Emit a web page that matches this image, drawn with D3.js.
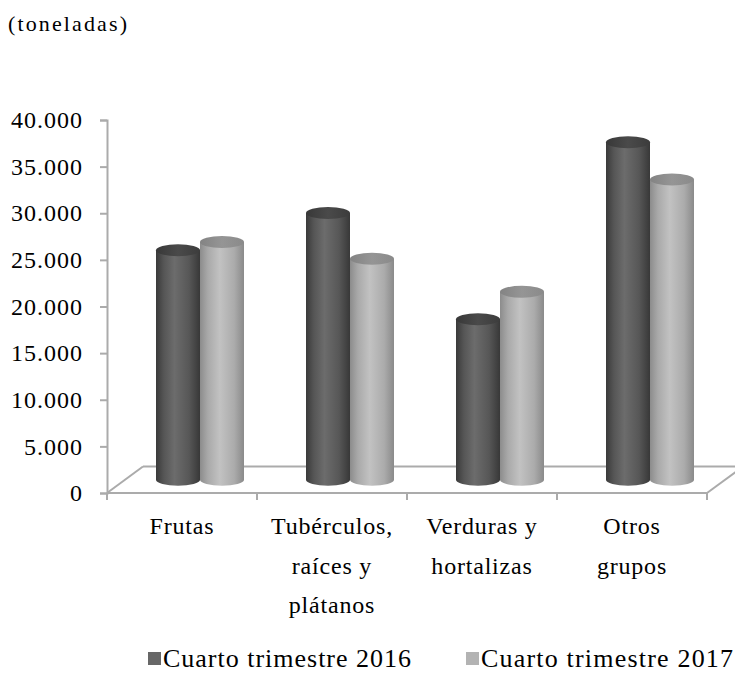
<!DOCTYPE html>
<html>
<head>
<meta charset="utf-8">
<script src="https://cdn.jsdelivr.net/npm/d3@7"></script>
<style>
  body { margin: 0; background: #fff; }
  svg text { font-family: "Liberation Serif", "Times New Roman", serif; fill: #000; }
</style>
</head>
<body>
<svg width="735" height="696"></svg>
<script>
// data (toneladas)
var categories = ["Frutas", "Tubérculos", "Verduras", "Otros"]
var categoryLines = [["Frutas"], ["Tubérculos,", "raíces y", "plátanos"], ["Verduras y", "hortalizas"], ["Otros", "grupos"]]
var series = ["Cuarto trimestre 2016", "Cuarto trimestre 2017"]
var values2016 = [24600, 28600, 17200, 36200]
var values2017 = [25500, 23700, 20150, 32200]
var yTicks = [0, 5000, 10000, 15000, 20000, 25000, 30000, 35000, 40000]

var es = d3.formatLocale({decimal: ",", thousands: ".", grouping: [3], currency: ["$", ""]})
var fmt = es.format(",")

var svg = d3.select("svg")

var yScale = d3.scaleLinear().domain([0, 40000]).range([493, 120])
var xScale = d3.scaleBand().domain(categories).range([107, 707])
var xInner = d3.scaleBand().domain(series).range([0, 88])

// 3d depth of the floor, bars stand in the middle of it
var depthX = 36, depthY = -26.5
var barDX = depthX / 2, barDY = depthY / 2
var ry = 6

var axisColor = "#ababab"

// gradients
var defs = svg.append("defs")
var grads = {
  body0: [["0%", "#3a3a3a"], ["18%", "#565656"], ["42%", "#6c6c6c"], ["75%", "#575757"], ["100%", "#383838"]],
  body1: [["0%", "#8c8c8c"], ["18%", "#a9a9a9"], ["45%", "#c2c2c2"], ["78%", "#ababab"], ["100%", "#8a8a8a"]],
  top0: [["0%", "#383838"], ["50%", "#4a4a4a"], ["100%", "#3c3c3c"]],
  top1: [["0%", "#838383"], ["50%", "#959595"], ["100%", "#8a8a8a"]]
}
Object.keys(grads).forEach(function(k) {
  var g = defs.append("linearGradient").attr("id", k).attr("x1", 0).attr("x2", 1).attr("y1", 0).attr("y2", 0)
  grads[k].forEach(function(s) { g.append("stop").attr("offset", s[0]).attr("stop-color", s[1]) })
})

// floor
var y0 = yScale(0), xl = xScale.range()[0], xr = xScale.range()[1]
var floor = svg.append("g").attr("stroke", axisColor).attr("stroke-width", 2).attr("fill", "none")
floor.append("line").attr("x1", xl).attr("y1", y0).attr("x2", xl + depthX).attr("y2", y0 + depthY)
floor.append("line").attr("x1", xl + depthX).attr("y1", y0 + depthY).attr("x2", xr + depthX).attr("y2", y0 + depthY)
floor.append("line").attr("x1", xr).attr("y1", y0).attr("x2", xr + depthX).attr("y2", y0 + depthY)

// y axis
var yAxis = d3.axisLeft(yScale).tickValues(yTicks).tickFormat(fmt).tickSize(7).tickPadding(17)
var yG = svg.append("g").attr("transform", "translate(" + xl + ",0)").call(yAxis)
yG.select(".domain").attr("stroke", axisColor).attr("stroke-width", 2)
yG.selectAll(".tick line").attr("stroke", axisColor).attr("stroke-width", 2)
yG.selectAll(".tick text").attr("font-size", 24).attr("letter-spacing", 1)
  .attr("font-family", "Liberation Serif").attr("fill", "#000")

// x axis line with ticks on band borders
var borders = categories.map(function(c) { return xScale(c) }).concat([xr])
svg.append("line").attr("x1", xl).attr("x2", xr).attr("y1", y0).attr("y2", y0)
  .attr("stroke", axisColor).attr("stroke-width", 2)
svg.selectAll("line.xtick").data(borders).enter().append("line").attr("class", "xtick")
  .attr("x1", d => d).attr("x2", d => d).attr("y1", y0).attr("y2", y0 + 7)
  .attr("stroke", axisColor).attr("stroke-width", 2)

// category labels
var labels = svg.selectAll("text.cat").data(categories).enter().append("text").attr("class", "cat")
  .attr("text-anchor", "middle").attr("font-size", 24).attr("letter-spacing", 0.8)
labels.each(function(c, i) {
  var t = d3.select(this)
  categoryLines[i].forEach(function(line, j) {
    t.append("tspan").attr("x", xScale(c) + xScale.bandwidth() / 2).attr("y", 534 + j * 39.5).text(line)
  })
})

// cylinders
var bars = []
categories.forEach(function(c, i) {
  [values2016[i], values2017[i]].forEach(function(v, s) {
    bars.push({cat: c, s: s, v: v})
  })
})
var w = xInner.bandwidth()
var cyl = svg.selectAll("g.cyl").data(bars).enter().append("g").attr("class", "cyl")
cyl.append("path")
  .attr("fill", d => "url(#body" + d.s + ")")
  .attr("d", function(d) {
    var left = xScale(d.cat) + xScale.bandwidth() / 2 - 44 + xInner(series[d.s]) + barDX
    var right = left + w
    var top = yScale(d.v) + barDY, bot = yScale(0) + barDY
    return "M" + left + "," + top + "L" + left + "," + bot +
      "A" + (w / 2) + "," + ry + " 0 0 0 " + right + "," + bot + "L" + right + "," + top + "Z"
  })
cyl.append("ellipse")
  .attr("fill", d => "url(#top" + d.s + ")")
  .attr("cx", d => xScale(d.cat) + xScale.bandwidth() / 2 - 44 + xInner(series[d.s]) + barDX + w / 2)
  .attr("cy", d => yScale(d.v) + barDY)
  .attr("rx", w / 2).attr("ry", ry)

// title
svg.append("text").attr("x", 8).attr("y", 31).attr("font-size", 22)
  .attr("textLength", 119).attr("lengthAdjust", "spacing").text("(toneladas)")

// legend
var legendX = [148, 466]
var legendTextEnd = [411, 733]
var legendColors = ["#676767", "#b3b3b3"]
var leg = svg.selectAll("g.leg").data(series).enter().append("g").attr("class", "leg")
leg.append("rect").attr("x", (d, i) => legendX[i]).attr("y", 652).attr("width", 13).attr("height", 13)
  .attr("fill", (d, i) => legendColors[i])
leg.append("text").attr("x", (d, i) => legendX[i] + 15).attr("y", 667).attr("font-size", 26)
  .attr("textLength", (d, i) => legendTextEnd[i] - legendX[i] - 15).attr("lengthAdjust", "spacing")
  .text(d => d)
</script>
</body>
</html>
